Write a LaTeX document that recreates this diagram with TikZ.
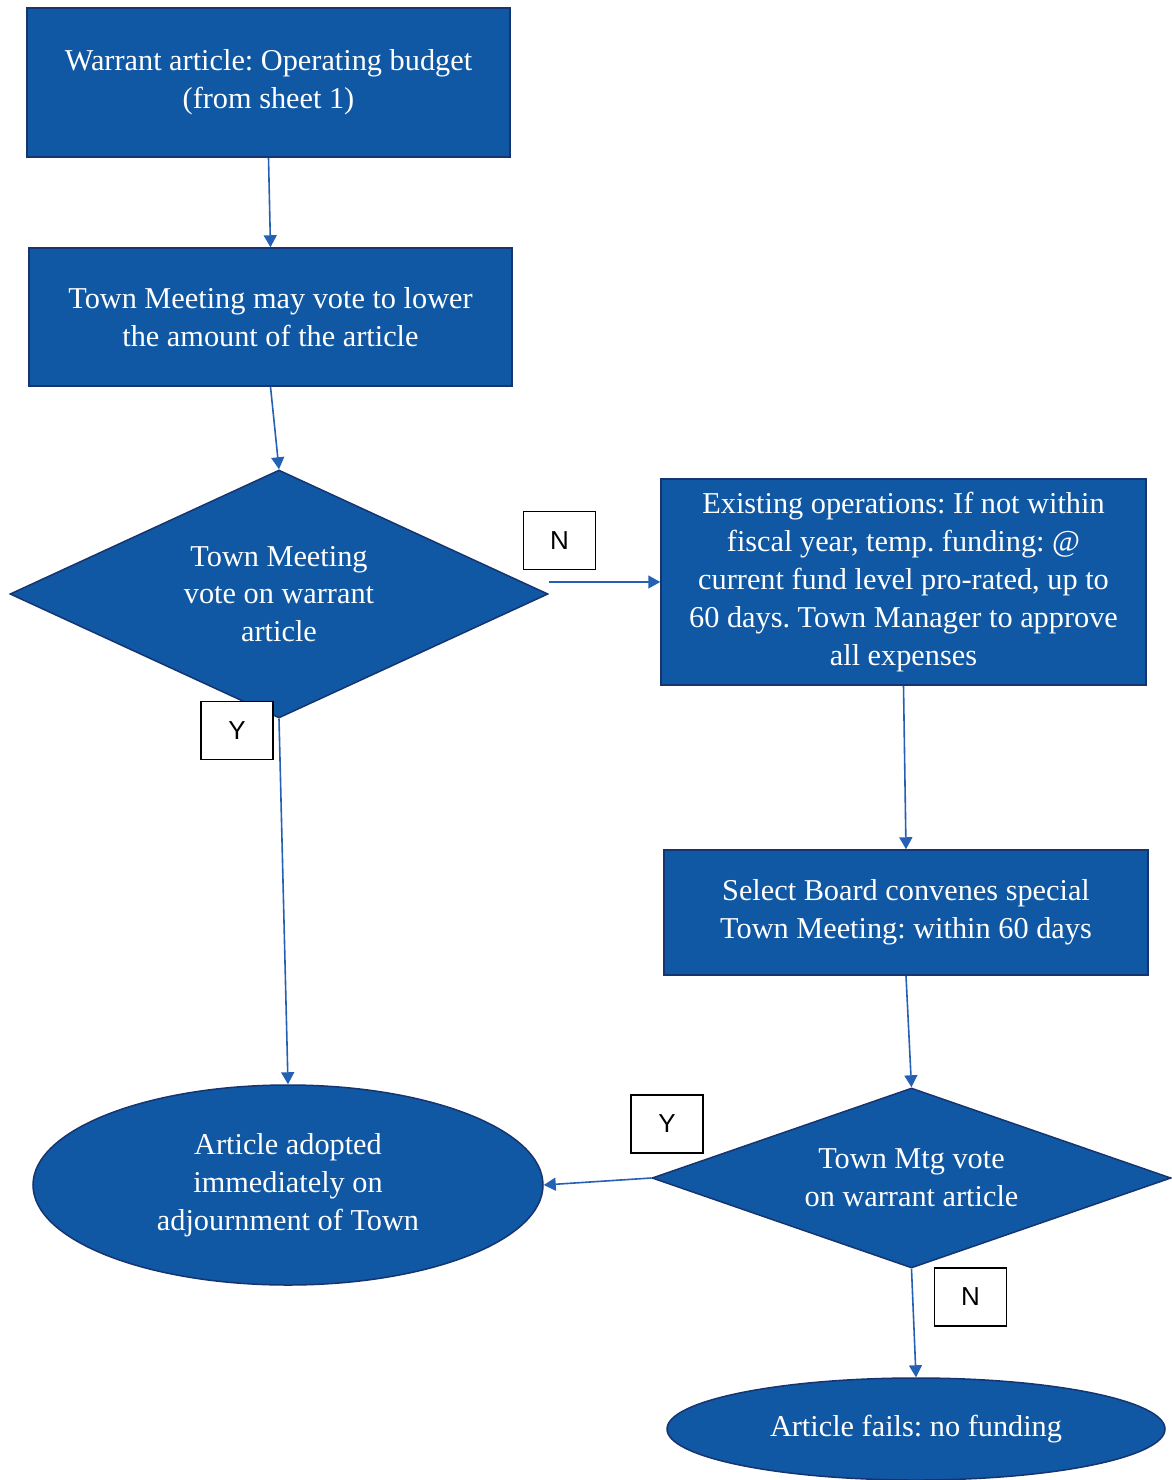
\documentclass[tikz,border=0pt]{standalone}
\usepackage{fontspec}
\setmainfont{Liberation Serif}
\newfontfamily\labelfont{Liberation Sans}
\usetikzlibrary{shapes.geometric,arrows.meta}
\definecolor{stepfill}{RGB}{16,88,164}
\definecolor{stepedge}{RGB}{22,52,112}
\definecolor{flowline}{RGB}{36,96,180}
\frenchspacing
\begin{document}
\begin{tikzpicture}[x=1pt,y=-1pt,
  every node/.style={inner sep=0pt},
  base/.style={fill=stepfill,draw=stepedge,line width=1.5pt,text=white,
    font=\fontsize{30.3}{37.8}\selectfont,align=center},
  procbox/.style={base,rectangle},
  decision/.style={base,diamond},
  terminal/.style={base,ellipse},
  tag/.style={draw=black,fill=white,line width=1.2pt,
    font=\labelfont\fontsize{26}{30}\selectfont,
    minimum width=72pt,minimum height=58pt},
  flow/.style={draw=flowline,line width=1.6pt,-{Triangle[width=13pt,length=12pt]}}
]
\useasboundingbox (0,0) rectangle (1171,1480);

% process steps
\node[procbox,minimum width=483pt,minimum height=149pt] (budget) at (268.5,82.5)
  {Warrant article: Operating budget\\(from sheet 1)};
\node[procbox,minimum width=483pt,minimum height=138pt] (lower) at (270.5,317)
  {Town Meeting may vote to lower\\the amount of the article};
\node[decision,aspect=2.17,minimum width=538pt,minimum height=248pt] (vote1) at (279,594)
  {Town Meeting\\vote on warrant\\article};
\node[procbox,minimum width=485pt,minimum height=206pt] (ops) at (903.5,582)
  {Existing operations: If not within\\fiscal year, temp. funding: @\\current fund level pro-rated, up to\\60 days. Town Manager to approve\\all expenses};
\node[procbox,minimum width=484pt,minimum height=125pt] (board) at (906,912.5)
  {Select Board convenes special\\Town Meeting: within 60 days};
\node[decision,aspect=2.88,minimum width=519pt,minimum height=180pt] (vote2) at (911.5,1178)
  {Town Mtg vote\\on warrant article};
\node[terminal,minimum width=510pt,minimum height=200pt] (adopted) at (288,1185)
  {Article adopted\\immediately on\\adjournment of Town};
\node[terminal,minimum width=498pt,minimum height=102pt] (fails) at (916,1429)
  {Article fails: no funding};

% connectors
\draw[flow] (budget.south) -- (lower.north);
\draw[flow] (lower.south) -- (vote1.north);
\draw[flow] (vote1.east |- ops.west) -- (ops.west);
\draw[flow] (vote1.south) -- (adopted.north);
\draw[flow] (ops.south) -- (board.north);
\draw[flow] (board.south) -- (vote2.north);
\draw[flow] (vote2.west) -- (adopted.east);
\draw[flow] (vote2.south) -- (fails.north);

% branch labels
\node[tag] (n1) at (559.5,540.5) {N};
\node[tag] (y1) at (237,730.5) {Y};
\node[tag] (y2) at (667,1124) {Y};
\node[tag] (n2) at (970.5,1297) {N};
\end{tikzpicture}
\end{document}
